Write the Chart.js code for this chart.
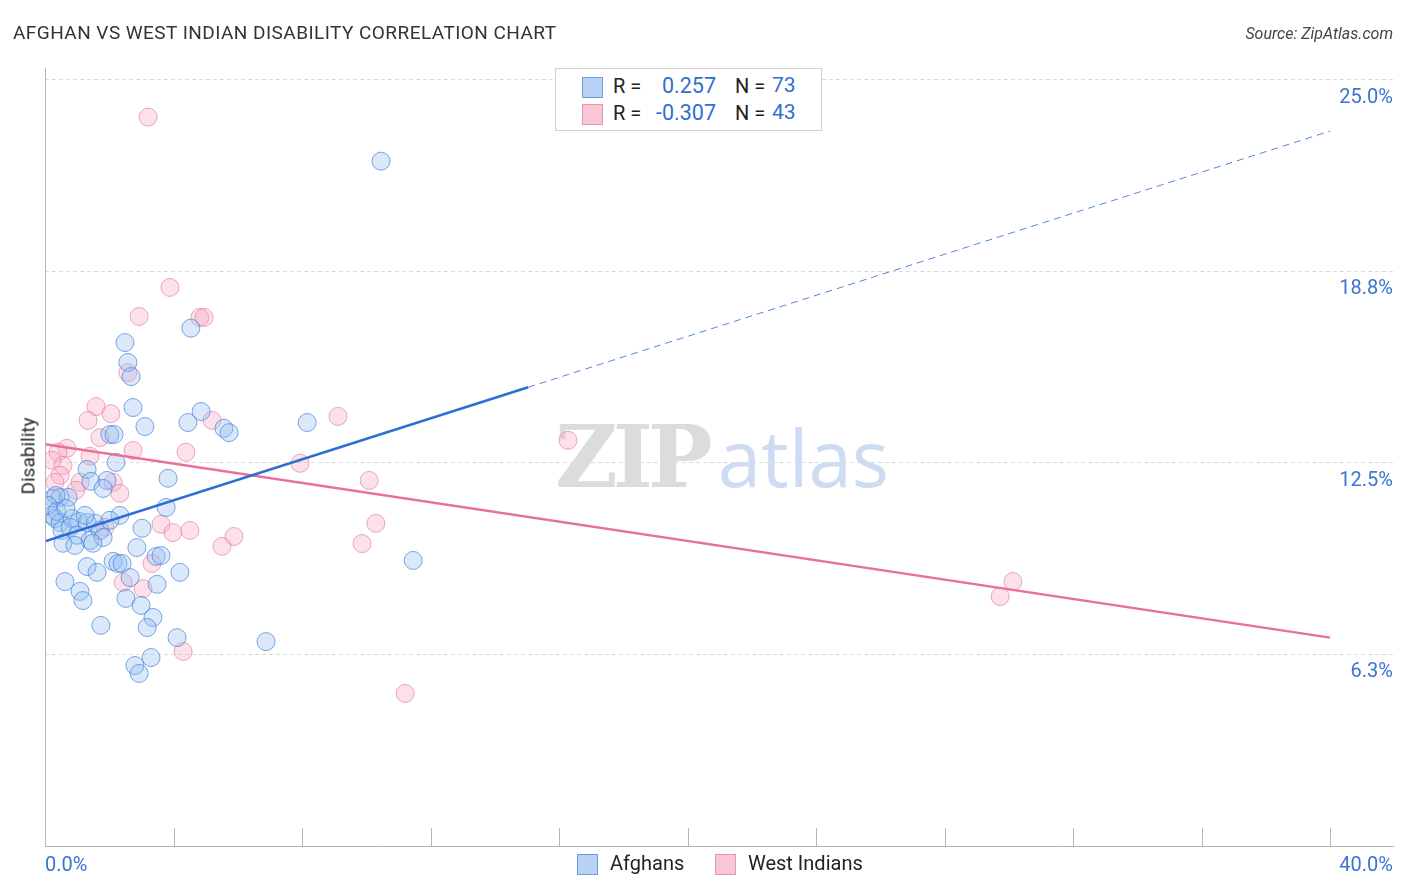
<!DOCTYPE html>
<html>
<head>
<meta charset="utf-8">
<script src="https://cdn.jsdelivr.net/npm/chart.js@4.4.1/dist/chart.umd.min.js"></script>
<style>
    body { margin: 0; background: #fff; font-family: Roboto, "Open Sans", sans-serif; }
    #wrap { position: relative; width: 1406px; height: 892px; overflow: hidden; }
    #grafico { position: absolute; left: 0; top: 0; }
    .titulo { position: absolute; left: 13px; top: 21px; font-size: 19px; color: #333; letter-spacing: 0.45px; white-space: nowrap; }
    .fuente { position: absolute; right: 13px; top: 24px; font-size: 16px; color: #444; font-style: italic; white-space: nowrap; }
    .marca { position: absolute; left: 555px; top: 404px; white-space: nowrap; }
    .marca .zip { font-family: "DejaVu Serif", "Liberation Serif", serif; font-size: 86px; font-weight: bold; color: #dcdcdc; letter-spacing: -5px; }
    .marca .atlas { font-family: "Open Sans", sans-serif; font-size: 78px; color: #cddcf2; margin-left: 10px; }
    .eje_y { position: absolute; left: 28px; top: 456px; transform: translate(-50%, -50%) rotate(-90deg); font-size: 19px; color: #222; white-space: nowrap; }
    .leyenda { position: absolute; left: 555px; top: 68px; width: 265px; height: 61px; border: 1px solid #d0d0d0; background: #fff; font-size: 20px; }
    .fila { position: absolute; left: 26px; height: 22px; width: 230px; }
    .caja { position: absolute; width: 19px; height: 19px; top: 0; }
    .leyenda span { position: absolute; top: -3px; white-space: nowrap; }
    .leyenda .valor { left: 40px; width: 94px; text-align: right; font-size: 21.5px; top: -4px; }
    .leyenda .num { font-size: 21px; top: -4px; }
    .azul { color: #2f6fd2; }
    .negro { color: #222; }
    .abajo { position: absolute; top: 851px; font-size: 20px; color: #222; }
    .abajo .caja { top: 3px; }
</style>
</head>
<body>
<div id="wrap">
    <div class="marca"><span class="zip">ZIP</span><span class="atlas">atlas</span></div>
    <canvas id="grafico" width="1406" height="892"></canvas>
    <div class="titulo">AFGHAN VS WEST INDIAN DISABILITY CORRELATION CHART</div>
    <div class="fuente">Source: ZipAtlas.com</div>
    <div class="eje_y">Disability</div>
    <div class="leyenda">
        <div class="fila" style="top:8px;">
            <div class="caja" style="background:#b9d3f6;border:1px solid #6c9be0;"></div>
            <span class="negro" style="left:31px;">R =</span>
            <span class="azul valor">0.257</span>
            <span class="negro" style="left:153px;">N =</span>
            <span class="azul num" style="left:190px;">73</span>
        </div>
        <div class="fila" style="top:35px;">
            <div class="caja" style="background:#f9c6d6;border:1px solid #e994b1;"></div>
            <span class="negro" style="left:31px;">R =</span>
            <span class="azul valor">-0.307</span>
            <span class="negro" style="left:153px;">N =</span>
            <span class="azul num" style="left:190px;">43</span>
        </div>
    </div>
    <div class="abajo" style="left:577px;">
        <div class="caja" style="left:0;background:#b9d3f6;border:1px solid #6c9be0;"></div>
        <span style="position:absolute;left:33px;top:0;white-space:nowrap;">Afghans</span>
    </div>
    <div class="abajo" style="left:715px;">
        <div class="caja" style="left:0;background:#f9c6d6;border:1px solid #e994b1;"></div>
        <span style="position:absolute;left:33px;top:0;white-space:nowrap;">West Indians</span>
    </div>
</div>
<script>
// Afghans (x = %, y = disability %)
var afganosX = [10.46, 4.54, 2.49, 2.58, 2.68, 2.74, 4.86, 4.45, 8.16, 3.11, 5.57, 5.73, 2.02, 2.15,
    2.21, 1.31, 3.83, 1.43, 1.93, 1.81, 0.25, 0.47, 0.72, 0.34, 3.77, 2.33, 0.22, 0.31, 0.47, 0.84,
    1.06, 1.31, 1.56, 1.71, 0.53, 0.78, 1.00, 1.40, 1.81, 0.56, 1.49, 3.02, 11.46, 2.86, 3.46, 3.61,
    2.12, 2.27, 2.40, 1.31, 1.62, 4.20, 2.65, 0.62, 3.49, 1.09, 1.18, 2.52, 2.99, 3.36, 3.18, 1.74,
    4.11, 6.88, 3.30, 2.80, 2.93, 0.09, 1.25, 2.02, 0.93, 0.37, 0.65];
var afganosY = [22.35, 16.90, 16.43, 15.78, 15.32, 14.31, 14.18, 13.82, 13.82, 13.69, 13.63, 13.49, 13.43, 13.43,
    12.52, 12.29, 12.00, 11.90, 11.93, 11.67, 11.35, 11.38, 11.38, 11.44, 11.05, 10.79, 10.79, 10.69, 10.56, 10.69,
    10.59, 10.56, 10.53, 10.30, 10.30, 10.40, 10.14, 9.97, 10.07, 9.88, 9.88, 10.37, 9.32, 9.74, 9.45, 9.48,
    9.29, 9.22, 9.22, 9.12, 8.93, 8.93, 8.76, 8.63, 8.54, 8.31, 8.01, 8.08, 7.85, 7.46, 7.13, 7.20,
    6.80, 6.67, 6.15, 5.89, 5.63, 11.12, 10.79, 10.63, 9.81, 10.92, 11.02];

// West Indians
var antillanosX = [3.21, 3.89, 2.93, 4.82, 4.95, 2.58, 1.59, 2.05, 1.34, 5.20, 9.12, 1.71, 2.74, 4.39,
    0.68, 0.40, 0.22, 1.40, 0.56, 7.94, 16.28, 10.09, 2.12, 1.09, 0.47, 0.96, 2.33, 0.31, 3.61, 3.98,
    4.51, 5.88, 5.51, 1.87, 10.30, 9.87, 3.33, 2.43, 3.05, 30.13, 29.73, 4.30, 11.21];
var antillanosY = [23.79, 18.23, 17.28, 17.25, 17.25, 15.45, 14.34, 14.11, 13.89, 13.89, 14.02, 13.33, 12.91, 12.85,
    12.98, 12.85, 12.59, 12.72, 12.42, 12.49, 13.24, 11.93, 11.87, 11.87, 12.10, 11.61, 11.51, 11.87, 10.50, 10.23,
    10.30, 10.10, 9.78, 10.40, 10.53, 9.87, 9.22, 8.60, 8.40, 8.63, 8.14, 6.35, 4.98];

// trend lines
var tendAfganosX = [0, 15.04];
var tendAfganosY = [9.94, 14.97];
var tendAfganosExtX = [15.04, 40];
var tendAfganosExtY = [14.97, 23.33];
var tendAntillanosX = [0, 40];
var tendAntillanosY = [13.11, 6.80];

// axes
var yTicks = [6.25, 12.5, 18.75, 25];
var yTickLabels = ['6.3%', '12.5%', '18.8%', '25.0%'];
var xTickMarks = [0, 4, 8, 12, 16, 20, 24, 28, 32, 36, 40];
var xTickLabels = ['0.0%', '40.0%'];
var xMax = 41.96;
var yMax = 25.39;

function puntos(xs, ys) {
    return xs.map(function (v, i) { return {x: v, y: ys[i]}; });
}

var marcasEje = {
    id: 'marcasEje',
    afterDraw: function (chart) {
        var ctx = chart.ctx;
        var area = chart.chartArea;
        var escala = chart.scales.x;
        ctx.save();
        ctx.strokeStyle = '#b5b5b5';
        ctx.lineWidth = 1;
        ctx.beginPath();
        ctx.moveTo(area.left + 0.5, area.top);
        ctx.lineTo(area.left + 0.5, area.bottom);
        xTickMarks.forEach(function (v) {
            var px = Math.round(escala.getPixelForValue(v)) + 0.5;
            ctx.moveTo(px, area.bottom);
            ctx.lineTo(px, area.bottom - 18);
        });
        ctx.stroke();
        ctx.restore();
    }
};

var ctx = document.getElementById('grafico').getContext('2d');
var chart = new Chart(ctx, {
    type: 'scatter',
    data: {
        datasets: [{
            label: 'Afghans',
            data: puntos(afganosX, afganosY),
            backgroundColor: 'rgba(150,190,240,0.35)',
            borderColor: 'rgba(70,130,220,0.7)',
            borderWidth: 1,
            pointRadius: 9,
            order: 3
        }, {
            label: 'West Indians',
            data: puntos(antillanosX, antillanosY),
            backgroundColor: 'rgba(245,170,195,0.35)',
            borderColor: 'rgba(230,120,160,0.65)',
            borderWidth: 1,
            pointRadius: 9,
            order: 4
        }, {
            type: 'line',
            label: 'tend_afg',
            data: puntos(tendAfganosX, tendAfganosY),
            borderColor: '#2a6fd6',
            borderWidth: 2.5,
            pointRadius: 0,
            fill: false,
            order: 1
        }, {
            type: 'line',
            label: 'tend_afg_ext',
            data: puntos(tendAfganosExtX, tendAfganosExtY),
            borderColor: '#4f86d8',
            borderWidth: 1,
            borderDash: [7, 5],
            pointRadius: 0,
            fill: false,
            order: 1
        }, {
            type: 'line',
            label: 'tend_ant',
            data: puntos(tendAntillanosX, tendAntillanosY),
            borderColor: '#e8709a',
            borderWidth: 2.5,
            pointRadius: 0,
            fill: false,
            order: 2
        }]
    },
    options: {
        responsive: false,
        animation: false,
        layout: { padding: { left: 45, right: 13, top: 68, bottom: 14 } },
        plugins: {
            legend: { display: false },
            tooltip: { enabled: false }
        },
        scales: {
            x: {
                type: 'linear',
                min: 0,
                max: xMax,
                afterBuildTicks: function (axis) {
                    axis.ticks = [{value: 0}, {value: xMax}];
                },
                ticks: {
                    align: 'inner',
                    padding: 0,
                    color: '#3c74d0',
                    font: { family: 'Roboto', size: 20 },
                    callback: function (v, i) { return xTickLabels[i]; }
                },
                grid: { display: false },
                border: { display: true, color: '#b5b5b5', width: 1 }
            },
            y: {
                type: 'linear',
                position: 'right',
                min: 0,
                max: yMax,
                afterBuildTicks: function (axis) {
                    axis.ticks = yTicks.map(function (v) { return {value: v}; });
                },
                ticks: {
                    mirror: true,
                    padding: 0,
                    labelOffset: 18,
                    color: '#3c74d0',
                    font: { family: 'Roboto', size: 20 },
                    callback: function (v, i) { return yTickLabels[i]; }
                },
                grid: {
                    drawTicks: false,
                    color: '#dcdcdc',
                    lineWidth: 1
                },
                border: { display: false, dash: [4, 3] }
            }
        }
    },
    plugins: [marcasEje]
});
</script>
</body>
</html>
